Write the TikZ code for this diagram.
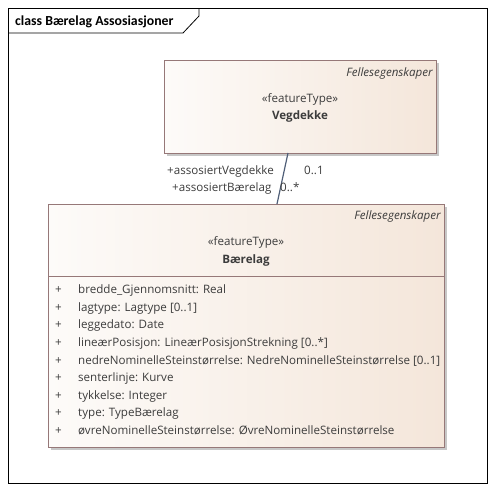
\documentclass[tikz,border=0pt]{standalone}
\usepackage{fontspec}
\setmainfont{Open Sans}
\newfontfamily\titlefont{Carlito}
\usetikzlibrary{positioning, shadows}

\definecolor{umlborder}{RGB}{150,120,120}
\definecolor{umlleft}{RGB}{253,251,249}
\definecolor{umlright}{RGB}{244,230,218}
\definecolor{assocline}{RGB}{80,95,120}
\definecolor{umltext}{RGB}{60,60,60}

\tikzset{
  umlbox/.style={draw=umlborder, left color=umlleft, right color=umlright,
    anchor=north west, inner sep=0pt,
    drop shadow={shadow xshift=3pt, shadow yshift=-3pt, fill=black!22, opacity=1}},
  umltxt/.style={font=\fontsize{11.6}{13}\selectfont, text=umltext, inner sep=0pt},
  attrtxt/.style={umltxt, anchor=base west},
}

\begin{document}
\begin{tikzpicture}[x=1pt, y=-1pt]
    \useasboundingbox (0,0) rectangle (495,491);

    % Draw frame and title tab
    \draw[thick] (8,8) rectangle (487,483);
    \draw[thick] (8,33) -- (183,33) -- (199,16) -- (199,8);
    \node[anchor=base west, inner sep=0pt, font=\titlefont\bfseries\fontsize{13.8}{15}\selectfont] (title) at (15,25) {class Bærelag Assosiasjoner};

    % Draw classes
    \node[umlbox, minimum width=272pt, minimum height=93pt] (vegdekke) at (164,60) {};
    \node[umlbox, minimum width=396pt, minimum height=243pt] (baerelag) at (48,204) {};
    \draw[umlborder] (48,276) -- (444,276);

    % Class labels
    \node[umltxt, anchor=base east, font=\itshape\fontsize{11.6}{13}\selectfont] (vfelles) at (433,76) {Fellesegenskaper};
    \node[umltxt, anchor=base] (vstereo) at (300,102) {«featureType»};
    \node[umltxt, anchor=base, font=\bfseries\fontsize{11.6}{13}\selectfont] (vname) at (300,119) {Vegdekke};
    \node[umltxt, anchor=base east, font=\itshape\fontsize{11.6}{13}\selectfont] (bfelles) at (441,219) {Fellesegenskaper};
    \node[umltxt, anchor=base] (bstereo) at (246,245) {«featureType»};
    \node[umltxt, anchor=base, font=\bfseries\fontsize{11.6}{13}\selectfont] (bname) at (246,263) {Bærelag};

    % Attributes
    \foreach \i/\a in {1/bredde\_Gjennomsnitt: Real, 2/lagtype: Lagtype [0..1], 3/leggedato: Date,
      4/lineærPosisjon: LineærPosisjonStrekning [0..*],
      5/nedreNominelleSteinstørrelse: NedreNominelleSteinstørrelse [0..1],
      6/senterlinje: Kurve, 7/tykkelse: Integer, 8/type: TypeBærelag,
      9/øvreNominelleSteinstørrelse: ØvreNominelleSteinstørrelse} {
      \node[attrtxt] (plus\i) at (55,276+17.6*\i) {+};
      \node[attrtxt] (attr\i) at (78,276+17.6*\i) {\a};
    }

    % Association
    \coordinate (vend) at (288,153);
    \coordinate (bend) at (277,204);
    \draw[assocline, line width=1.2pt] (vend) -- (bend);
    \node[umltxt, anchor=base west] (rolev) at (167,174) {+assosiertVegdekke};
    \node[umltxt, anchor=base west] (multv) at (304,174) {0..1};
    \node[umltxt, anchor=base west] (roleb) at (172,191) {+assosiertBærelag};
    \node[umltxt, anchor=base west] (multb) at (280,191) {0..*};

  \end{tikzpicture}
\end{document}
